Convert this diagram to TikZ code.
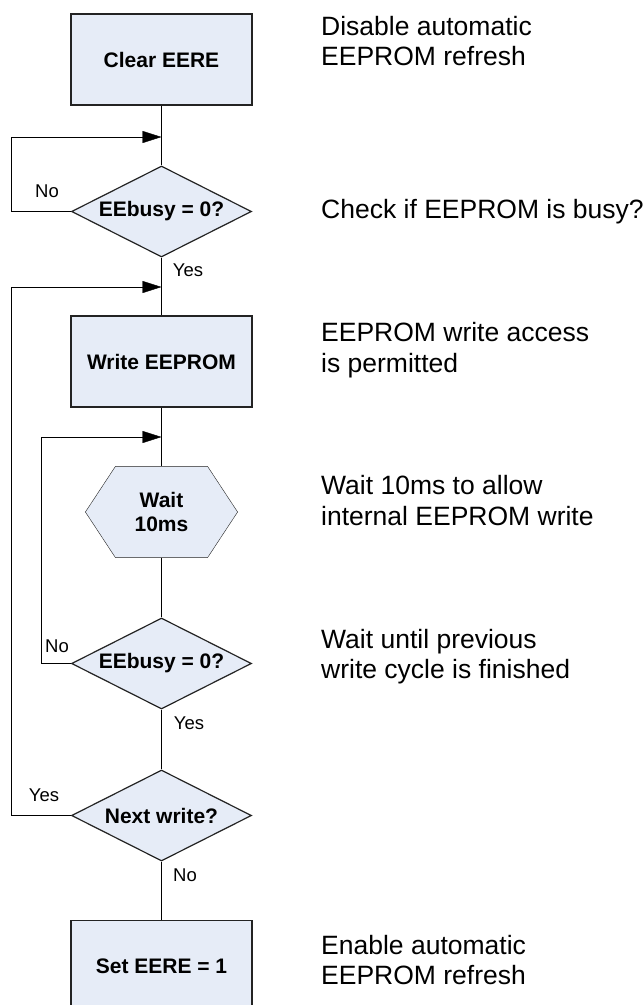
\documentclass[tikz,border=0pt]{standalone}
\usepackage{fontspec}
\setmainfont{Liberation Sans}
\usetikzlibrary{shapes.geometric,arrows.meta}
\pgfdeclarelayer{background}
\pgfsetlayers{background,main}
\definecolor{boxfill}{RGB}{230,236,247}
\definecolor{boxline}{RGB}{35,35,35}

\begin{document}
\begin{tikzpicture}[x=1pt,y=-1pt,line width=1.2pt,
  box/.style={rectangle,draw=boxline,fill=boxfill,minimum width=181pt,minimum height=91pt,
    font=\fontsize{21}{24}\selectfont\bfseries},
  decision/.style={diamond,draw=boxline,fill=boxfill,aspect=2,inner sep=0pt,
    minimum width=180pt,minimum height=91pt,font=\fontsize{21}{24}\selectfont\bfseries},
  waitbox/.style={rectangle,minimum width=151pt,minimum height=90pt,align=center,
    font=\fontsize{21}{24}\selectfont\bfseries},
  lbl/.style={inner sep=0pt,font=\fontsize{18.5}{20}\selectfont},
  note/.style={anchor=west,align=left,inner sep=0pt,font=\fontsize{26.5}{30.5}\selectfont},
  flow/.style={-{Triangle[length=19pt,width=12pt]}}]
  \useasboundingbox (0,0) rectangle (644,1005);
  \clip (0,0) rectangle (644,1005);

  % steps
  \draw(161.5,59.5) node[box] (clear) {Clear EERE};
  \draw(161.5,211.5) node[decision] (busyA) {EEbusy = 0?};
  \draw(161.5,361.5) node[box] (write) {Write EEPROM};
  \draw(161.5,512) node[waitbox] (wait) {Wait\\10ms};
  \draw(161.5,663.5) node[decision] (busyB) {EEbusy = 0?};
  \draw(161.5,815.5) node[decision] (next) {Next write?};
  \draw(161.5,966) node[box] (set) {Set EERE = 1};
  \begin{pgfonlayer}{background}
    \draw[draw=boxline,fill=boxfill] (wait.west) -- ([xshift=30pt]wait.north west)
      -- ([xshift=-30pt]wait.north east) -- (wait.east)
      -- ([xshift=-30pt]wait.south east) -- ([xshift=30pt]wait.south west) -- cycle;
  \end{pgfonlayer}

  % joins of the loops
  \coordinate (inA) at (161.5,137);
  \coordinate (inW) at (161.5,287);
  \coordinate (inB) at (161.5,437);

  \draw (clear) -- (busyA);
  \draw (busyA) -- (write);
  \draw (write) -- (wait);
  \draw (wait) -- (busyB);
  \draw (busyB) -- (next);
  \draw (next) -- (set);
  \draw[flow] (busyA.west) -- ++(-60,0) |- (inA);
  \draw[flow] (busyB.west) -- ++(-30,0) |- (inB);
  \draw[flow] (next.west) -- ++(-60,0) |- (inW);

  \node[lbl] (noA) at (47,191) {No};
  \node[lbl] (yesA) at (188,270) {Yes};
  \node[lbl] (noB) at (57,646) {No};
  \node[lbl] (yesB) at (189,723) {Yes};
  \node[lbl] (yesC) at (44,795) {Yes};
  \node[lbl] (noC) at (185,875) {No};

  % comments on the right
  \node[note] (noteA) at (321,41) {Disable automatic\\EEPROM refresh};
  \node[note] (noteB) at (321,211.5) {Check if EEPROM is busy?};
  \node[note] (noteC) at (321,350) {EEPROM write access\\is permitted};
  \node[note] (noteD) at (321,500.5) {Wait 10ms to allow\\internal EEPROM write};
  \node[note] (noteE) at (321,656.5) {Wait until previous\\write cycle is finished};
  \node[note] (noteF) at (321,960) {Enable automatic\\EEPROM refresh};
\end{tikzpicture}
\end{document}
